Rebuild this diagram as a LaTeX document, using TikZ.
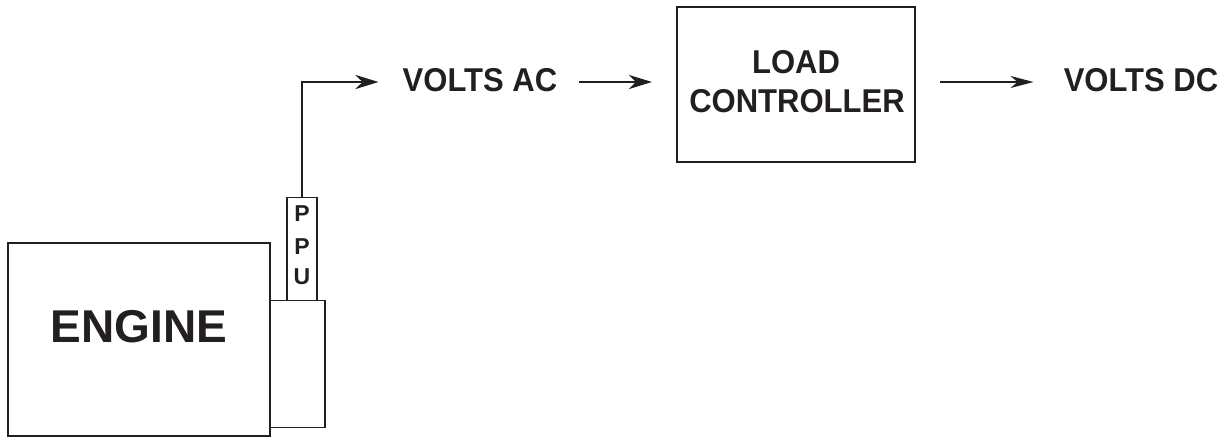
\documentclass[tikz,border=0pt]{standalone}
\usepackage{fontspec}
\setmainfont{Liberation Sans}
\usetikzlibrary{arrows.meta}
\definecolor{ink}{RGB}{35,31,32}
\newcommand{\cond}[1]{\scalebox{0.94}[1]{#1}}
\begin{document}
\begin{tikzpicture}[x=1pt,y=-1pt,
  box/.style={draw=ink,line width=1.2pt,inner sep=0pt,outer sep=0pt},
  lbl/.style={font=\bfseries\fontsize{33}{38}\selectfont,text=ink,inner sep=0pt,anchor=base},
  sig/.style={lbl,text height=18pt,text depth=0pt},
  ppulbl/.style={font=\bfseries\fontsize{23}{26}\selectfont,text=ink,inner sep=0pt,anchor=base},
  conn/.style={draw=ink,line width=2.6pt,-{Stealth[length=23pt,width=14pt,inset=7pt]}},
  thinconn/.style={draw=ink,line width=1.6pt,-{Stealth[length=23pt,width=12pt,inset=7pt]}}
]
\useasboundingbox (0,0) rectangle (1231,437);
% engine
\node[box,minimum width=262pt,minimum height=193pt] (engine) at (139,339.5) {};
\node[font=\bfseries\fontsize{46}{46}\selectfont,text=ink,inner sep=0pt,anchor=base] (enginetxt) at (139,342) {ENGINE};
% mount and PPU
\node[box,minimum width=55pt,minimum height=127pt] (mount) at (297.5,364) {};
\node[box,minimum width=30pt,minimum height=103pt] (ppu) at (302,249) {};
\node[ppulbl] (p1) at (302,221) {P};
\node[ppulbl] (p2) at (302,254) {P};
\node[ppulbl] (u) at (302,284) {U};
% signals
\node[sig] (vac) at (480,91) {\cond{VOLTS AC}};
\node[box,minimum width=238pt,minimum height=155pt] (load) at (796,84.5) {};
\node[lbl] (loadtxt) at (796,73) {\cond{LOAD}};
\node[lbl] (ctrltxt) at (797,112) {\cond{CONTROLLER}};
\node[sig] (vdc) at (1141,91) {\cond{VOLTS DC}};
% connectors
\draw[conn] (ppu.north) |- ([xshift=-24pt]vac.west);
\draw[conn] ([xshift=22pt]vac.east) -- ([xshift=-25pt]load.west |- vac.east);
\draw[thinconn] ([xshift=25pt]load.east |- vdc.west) -- ([xshift=-30pt]vdc.west);
\end{tikzpicture}
\end{document}
